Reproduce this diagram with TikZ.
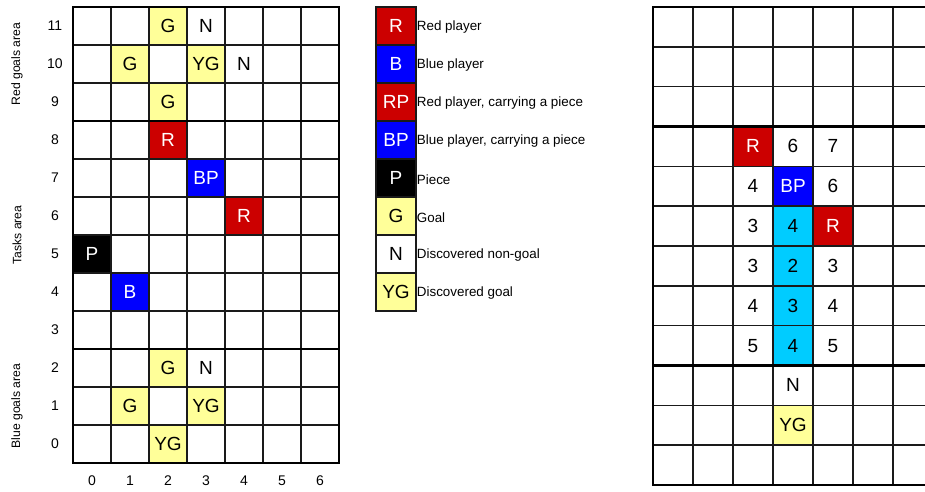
\documentclass[tikz,border=0pt]{standalone}
\usepackage{fontspec}
\setmainfont{Liberation Sans}
\definecolor{rc}{HTML}{CC0000}
\definecolor{bc}{HTML}{0000FF}
\definecolor{yc}{HTML}{FFFF99}
\definecolor{cc}{HTML}{00CCFF}
\definecolor{gl}{HTML}{1A1A1A}
\tikzset{
  gridthin/.style={line width=1.4pt, draw=gl},
  gridbold/.style={line width=2.8pt, draw=black},
  lcell/.style={minimum width=38pt, minimum height=38pt, inner sep=0pt, font=\fontsize{19}{19}\selectfont},
  rcell/.style={minimum width=40pt, minimum height=39.83pt, inner sep=0pt, font=\fontsize{19}{19}\selectfont},
  redc/.style={fill=rc, text=white},
  bluec/.style={fill=bc, text=white},
  yelc/.style={fill=yc, text=black},
  blkc/.style={fill=black, text=white},
  cyac/.style={fill=cc, text=black},
  axlab/.style={font=\fontsize{14}{14}\selectfont, inner sep=0pt},
  sidelab/.style={font=\fontsize{12.2}{12.2}\selectfont, rotate=90, inner sep=0pt},
  leglab/.style={font=\fontsize{13.4}{13.4}\selectfont, anchor=west, inner sep=0pt, yshift=-1.5pt},
  legbox/.style={minimum width=40pt, minimum height=38pt, inner sep=0pt, draw=gl, line width=1.4pt, font=\fontsize{19}{19}\selectfont}
}
\begin{document}
\begin{tikzpicture}[x=1pt,y=-1pt]
\useasboundingbox (0,0) rectangle (925,491);
\fill[white] (0,0) rectangle (925,491);
% ---------- left grid cells ----------
\node[lcell,yelc] (l-2-11) at (168,26) {G};
\node[lcell] (l-3-11) at (206,26) {N};
\node[lcell,yelc] (l-1-10) at (130,64) {G};
\node[lcell,yelc] (l-3-10) at (206,64) {YG};
\node[lcell] (l-4-10) at (244,64) {N};
\node[lcell,yelc] (l-2-9) at (168,102) {G};
\node[lcell,redc] (l-2-8) at (168,140) {R};
\node[lcell,bluec] (l-3-7) at (206,178) {BP};
\node[lcell,redc] (l-4-6) at (244,216) {R};
\node[lcell,blkc] (l-0-5) at (92,254) {P};
\node[lcell,bluec] (l-1-4) at (130,292) {B};
\node[lcell,yelc] (l-2-2) at (168,368) {G};
\node[lcell] (l-3-2) at (206,368) {N};
\node[lcell,yelc] (l-1-1) at (130,406) {G};
\node[lcell,yelc] (l-3-1) at (206,406) {YG};
\node[lcell,yelc] (l-2-0) at (168,444) {YG};
% grid lines
\foreach \i in {1,...,6} \draw[gridthin] (73+38*\i,7) -- (73+38*\i,463);
\foreach \j in {1,2,4,5,6,7,8,10,11} \draw[gridthin] (73,7+38*\j) -- (339,7+38*\j);
\draw[gridbold] (73,121) -- (339,121);
\draw[gridbold] (73,349) -- (339,349);
\draw[gridbold] (73,7) rectangle (339,463);
% axis labels
\foreach \c in {0,...,6} \node[axlab] (cx-\c) at (92+38*\c,481) {\c};
\foreach \r in {0,...,11} \node[axlab] (ry-\r) at (55,26+38*11-38*\r) {\r};
\node[sidelab] (side-red) at (17,64) {Red goals area};
\node[sidelab] (side-task) at (17,235) {Tasks area};
\node[sidelab] (side-blue) at (17,406) {Blue goals area};
% ---------- legend ----------
\node[legbox,redc] (lg1) at (396,26) {R};
\node[legbox,bluec] (lg2) at (396,64) {B};
\node[legbox,redc] (lg3) at (396,102) {RP};
\node[legbox,bluec] (lg4) at (396,140) {BP};
\node[legbox,blkc] (lg5) at (396,178) {P};
\node[legbox,yelc] (lg6) at (396,216) {G};
\node[legbox] (lg7) at (396,254) {N};
\node[legbox,yelc] (lg8) at (396,292) {YG};
\node[leglab] (lt1) at (lg1.east) {Red player};
\node[leglab] (lt2) at (lg2.east) {Blue player};
\node[leglab] (lt3) at (lg3.east) {Red player, carrying a piece};
\node[leglab] (lt4) at (lg4.east) {Blue player, carrying a piece};
\node[leglab] (lt5) at (lg5.east) {Piece};
\node[leglab] (lt6) at (lg6.east) {Goal};
\node[leglab] (lt7) at (lg7.east) {Discovered non-goal};
\node[leglab] (lt8) at (lg8.east) {Discovered goal};
% ---------- right grid ----------
\node[rcell,redc] (r-2-3) at (753,146.4) {R};
\node[rcell] (r-3-3) at (793,146.4) {6};
\node[rcell] (r-4-3) at (833,146.4) {7};
\node[rcell] (r-2-4) at (753,186.2) {4};
\node[rcell,bluec] (r-3-4) at (793,186.2) {BP};
\node[rcell] (r-4-4) at (833,186.2) {6};
\node[rcell] (r-2-5) at (753,226.0) {3};
\node[rcell,cyac] (r-3-5) at (793,226.0) {4};
\node[rcell,redc] (r-4-5) at (833,226.0) {R};
\node[rcell] (r-2-6) at (753,265.9) {3};
\node[rcell,cyac] (r-3-6) at (793,265.9) {2};
\node[rcell] (r-4-6) at (833,265.9) {3};
\node[rcell] (r-2-7) at (753,305.7) {4};
\node[rcell,cyac] (r-3-7) at (793,305.7) {3};
\node[rcell] (r-4-7) at (833,305.7) {4};
\node[rcell] (r-2-8) at (753,345.6) {5};
\node[rcell,cyac] (r-3-8) at (793,345.6) {4};
\node[rcell] (r-4-8) at (833,345.6) {5};
\node[rcell] (r-3-9) at (793,385.4) {N};
\node[rcell,yelc] (r-3-10) at (793,425.2) {YG};
\foreach \i in {1,...,6} \draw[gridthin] (653+40*\i,7) -- (653+40*\i,485);
\foreach \j in {1,2,4,5,6,7,8,10,11} \draw[gridthin] (653,7+39.83*\j) -- (925,7+39.83*\j);
\draw[gridbold] (653,126.5) -- (925,126.5);
\draw[gridbold] (653,365.5) -- (925,365.5);
\draw[gridbold] (925,7) -- (653,7) -- (653,485) -- (925,485);
\end{tikzpicture}
\end{document}
